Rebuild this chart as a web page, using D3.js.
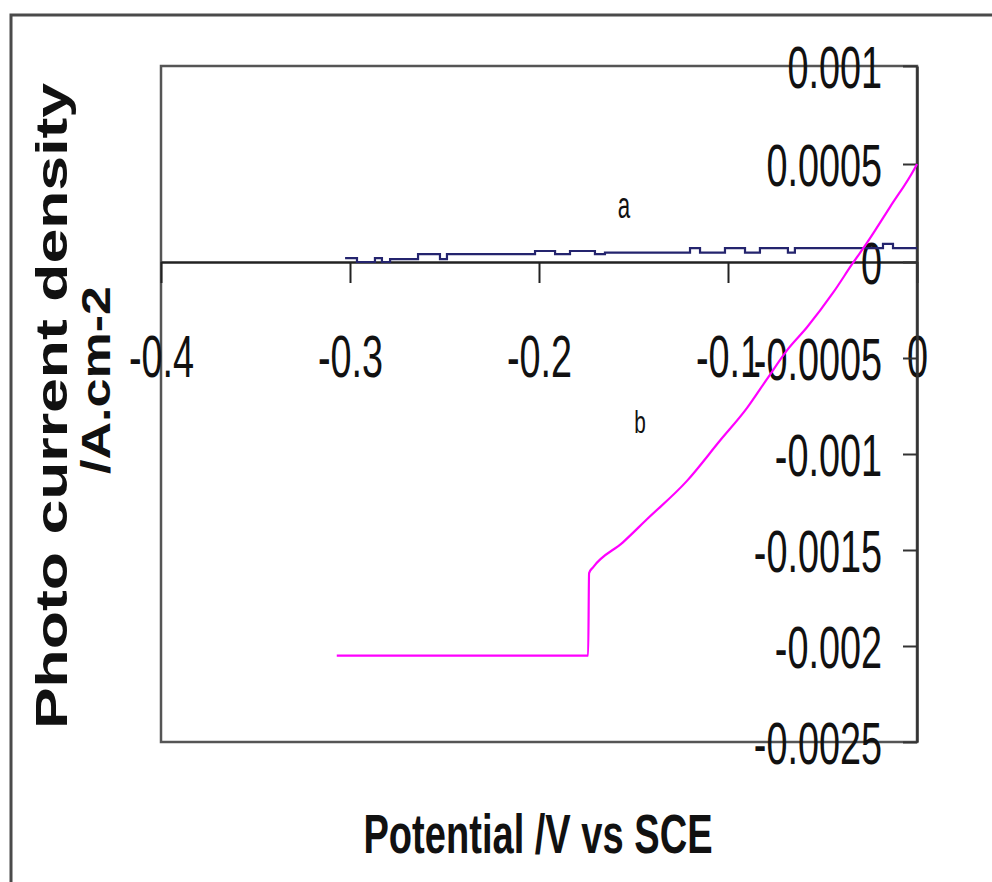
<!DOCTYPE html>
<html>
<head>
<meta charset="utf-8">
<script src="https://cdn.jsdelivr.net/npm/d3@7"></script>
<style>
  html, body { margin: 0; padding: 0; background: #fff; }
  svg { display: block; }
  text { font-family: "Liberation Sans", Arial, sans-serif; fill: #111; }
</style>
</head>
<body>
<svg id="chart" width="992" height="882"></svg>
<script>
// Potential sweep (V vs SCE) and photocurrent density (A/cm²)
// Curve a: step-like trace close to zero (start of each step)
const potentialA = [-0.3026, -0.2963, -0.2868, -0.2831, -0.2788, -0.2640, -0.2524, -0.2487,
  -0.2021, -0.1915, -0.1836, -0.1704, -0.1651, -0.1201, -0.1148, -0.1016, -0.0910, -0.0831,
  -0.0683, -0.0646, -0.0180, -0.0127, 0.0];
const currentA = [0.00002, 0.0, 0.00002, 0.0, 0.000015, 0.00004, 0.000015, 0.00004,
  0.000056, 0.00004, 0.000056, 0.00004, 0.000048, 0.000071, 0.000048, 0.000071, 0.000048, 0.000071,
  0.000048, 0.000071, 0.000092, 0.000071, 0.000071];

// Curve b: plateau, jump, then rising branch crossing zero
const potentialB = [-0.307, -0.174, -0.1735, -0.1714, -0.1556, -0.1429, -0.1217, -0.1042,
  -0.0899, -0.0794, -0.0688, -0.0582, -0.0444, -0.0339, -0.0265, -0.0143, -0.0011, 0.0];
const currentB = [-0.00205, -0.00205, -0.00162, -0.00159, -0.00146, -0.00134, -0.00114, -0.00093,
  -0.00076, -0.00061, -0.00046, -0.00034, -0.00016, -0.000005, 0.000097, 0.00028, 0.00048, 0.0005];

const xTickValues = [-0.4, -0.3, -0.2, -0.1, 0];
const xTickLabels = ["-0.4", "-0.3", "-0.2", "-0.1", "0"];
const yTickValues = [0.001, 0.0005, 0, -0.0005, -0.001, -0.0015, -0.002, -0.0025];
const yTickLabels = ["0.001", "0.0005", "0", "-0.0005", "-0.001", "-0.0015", "-0.002", "-0.0025"];

const xTitle = "Potential /V vs SCE";
const yTitle1 = "Photo current density";
const yTitle2 = "/A.cm-2";

const svg = d3.select("#chart");
const plotLeft = 161, plotRight = 917, plotTop = 66, plotBottom = 742;

const x = d3.scaleLinear().domain([-0.4, 0]).range([plotLeft, plotRight]);
const y = d3.scaleLinear().domain([-0.0025, 0, 0.001]).range([plotBottom, 262, plotTop]);

// outer frame
svg.append("path")
  .attr("d", "M11,882 V15 H992")
  .attr("fill", "none").attr("stroke", "#4a4a4a").attr("stroke-width", 3);

// plot box
svg.append("rect")
  .attr("x", plotLeft).attr("y", plotTop)
  .attr("width", plotRight - plotLeft).attr("height", plotBottom - plotTop)
  .attr("fill", "none").attr("stroke", "#555").attr("stroke-width", 2.5);

const condense = 0.63;

// x axis along the zero line
const xAxis = d3.axisBottom(x)
  .tickValues(xTickValues)
  .tickFormat((d, i) => xTickLabels[i])
  .tickSizeInner(21).tickSizeOuter(0);
const gx = svg.append("g").attr("transform", `translate(0,${y(0)})`).call(xAxis);
gx.select(".domain").attr("stroke", "#222").attr("stroke-width", 2.5);
gx.selectAll(".tick line").attr("stroke", "#222").attr("stroke-width", 2);
gx.selectAll(".tick text")
  .attr("y", null).attr("dy", null)
  .attr("transform", `translate(0,115) scale(${condense},1)`)
  .attr("font-size", 60).attr("fill", "#111")
  .attr("font-family", "Liberation Sans, Arial, sans-serif");

// y axis on the right edge, ticks pointing inward
const yAxis = d3.axisLeft(y)
  .tickValues(yTickValues)
  .tickFormat((d, i) => yTickLabels[i])
  .tickSizeInner(14).tickSizeOuter(0);
const gy = svg.append("g").attr("transform", `translate(${plotRight},0)`).call(yAxis);
gy.select(".domain").attr("stroke", "#333").attr("stroke-width", 2.5);
gy.selectAll(".tick line").attr("stroke", "#333").attr("stroke-width", 2);
gy.selectAll(".tick text")
  .attr("x", null).attr("dy", null)
  .attr("text-anchor", "end")
  .attr("transform", `translate(-35,21) scale(${condense},1)`)
  .attr("font-size", 60).attr("fill", "#111")
  .attr("font-family", "Liberation Sans, Arial, sans-serif");

// curve a
const lineA = d3.line()
  .x((d, i) => x(potentialA[i]))
  .y((d, i) => y(currentA[i]))
  .curve(d3.curveStepAfter);
svg.append("path")
  .attr("d", lineA(potentialA))
  .attr("fill", "none").attr("stroke", "#24246e").attr("stroke-width", 2.2);

// curve b
const lineB = d3.line()
  .x((d, i) => x(potentialB[i]))
  .y((d, i) => y(currentB[i]))
  .curve(d3.curveMonotoneX);
svg.append("path")
  .attr("d", lineB(potentialB))
  .attr("fill", "none").attr("stroke", "#ff00ff").attr("stroke-width", 2.2)
  .attr("stroke-linejoin", "round");

// curve labels
svg.append("text")
  .attr("transform", "translate(624,218) scale(0.62,1)")
  .attr("text-anchor", "middle").attr("font-size", 36).text("a");
svg.append("text")
  .attr("transform", "translate(640,433) scale(0.65,1)")
  .attr("text-anchor", "middle").attr("font-size", 32).text("b");

// axis titles
svg.append("text")
  .attr("transform", "translate(538,853) scale(0.68,1)")
  .attr("text-anchor", "middle").attr("font-size", 56).attr("font-weight", "bold")
  .text(xTitle);
svg.append("text")
  .attr("transform", "translate(67,406) rotate(-90) scale(1.39,1)")
  .attr("text-anchor", "middle").attr("font-size", 45).attr("font-weight", "bold")
  .text(yTitle1);
svg.append("text")
  .attr("transform", "translate(110,380) rotate(-90) scale(1.3,1)")
  .attr("text-anchor", "middle").attr("font-size", 40).attr("font-weight", "bold")
  .text(yTitle2);
</script>
</body>
</html>
